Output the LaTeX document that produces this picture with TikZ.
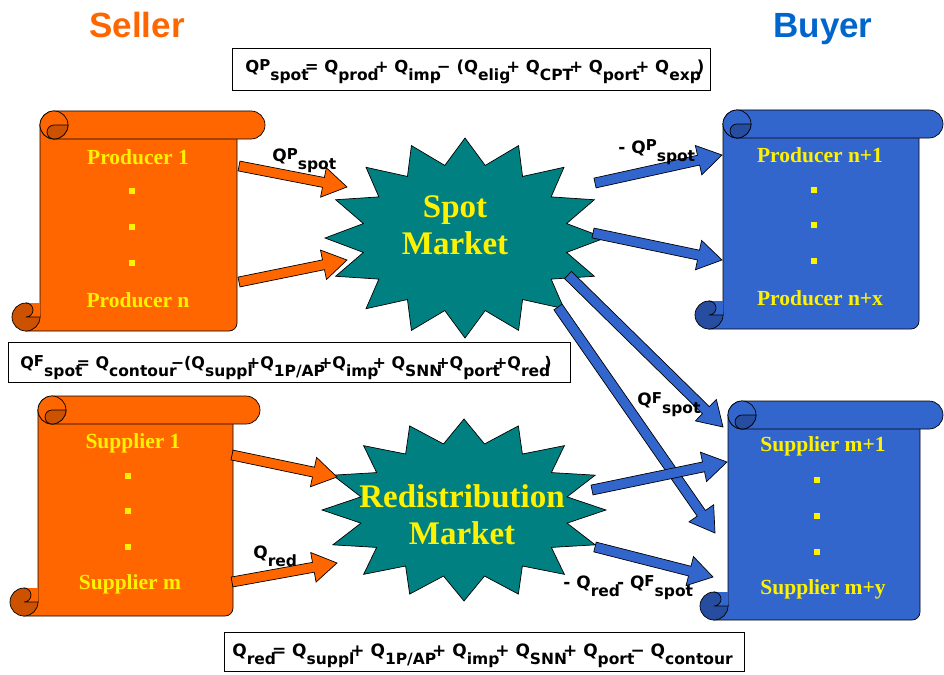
\documentclass[tikz,border=0pt]{standalone}
\usepackage{fontspec}
\setmainfont{Liberation Serif}
\setsansfont{DejaVu Sans}
\newfontfamily\headfont{Liberation Sans}
\usetikzlibrary{calc}

\definecolor{sellerorange}{RGB}{255,102,0}
\definecolor{sellercurl}{RGB}{204,82,0}
\definecolor{buyerblue}{RGB}{51,102,204}
\definecolor{buyercurl}{RGB}{38,77,160}
\definecolor{headblue}{RGB}{0,102,204}
\definecolor{marketteal}{RGB}{0,128,128}

% quantity with lowered index, and with raised letter
\newlength\subkern
\setlength\subkern{-3pt}
\newcommand{\qq}[2]{#1\raisebox{-8pt}{\fontsize{15.5}{15.5}\selectfont #2}\kern\subkern}
\newcommand{\qup}[1]{Q\raisebox{2pt}{\fontsize{15}{15}\selectfont #1}}

% scroll: left, top, right, bottom, end of roll, fill, curl
\newcommand{\drawscroll}[7]{%
  \draw[fill=#6] ({#1-14},#4) -- ({#3-8},#4) arc[start angle=-90,end angle=0,radius=8pt]
    -- (#3,{#2+14}) -- (#1,{#2+14}) -- (#1,{#4-14}) -- cycle;
  \draw[fill=#7] ({#1-14},{#4-14}) circle (14pt);
  \fill[#6] ({#1-14},{#4-28}) arc[start angle=90,end angle=-90,radius=7pt] -- (#1,{#4-14}) -- (#1,{#4-28}) -- cycle;
  \draw ({#1-14},{#4-28}) arc[start angle=90,end angle=-90,radius=7pt] -- (#1,{#4-14});
  \draw[fill=#6,rounded corners=14pt] (#1,#2) rectangle (#5,{#2+28});
  \draw[fill=#6] ({#1+14},{#2+14}) circle (14pt);
  \draw[fill=#7] ({#1+14},{#2+14}) arc[start angle=90,end angle=270,radius=7pt]
    arc[start angle=-90,end angle=0,radius=14pt] -- cycle;
}

% star: centre, x radius, y radius
\newcommand{\drawstar}[3]{%
  \draw[fill=marketteal] (#1) +(0:#2pt and #3pt)
    \foreach \i [evaluate=\i as \ang using \i*11.25,
                 evaluate=\i as \rx using {mod(\i,2)==1 ? 0.74*#2 : #2},
                 evaluate=\i as \ry using {mod(\i,2)==1 ? 0.74*#3 : #3}] in {1,...,31}
      { -- +(\ang:\rx pt and \ry pt) } -- cycle;
}

% block arrow from #1 to #2
\newcommand{\blockarrow}[3]{%
  \coordinate (bh) at ($(#2)!24pt!(#1)$);
  \draw[fill=#3] ($(#1)!5pt!90:(#2)$) -- ($(bh)!5pt!90:(#2)$) -- ($(bh)!15pt!90:(#2)$)
    -- (#2) -- ($(bh)!15pt!-90:(#2)$) -- ($(bh)!5pt!-90:(#2)$) -- ($(#1)!5pt!-90:(#2)$) -- cycle;
}

\begin{document}
\begin{tikzpicture}[x=1pt,y=-1pt,line width=0.7pt,
    every node/.style={inner sep=0pt},
    headtext/.style={anchor=base,font=\headfont\bfseries\fontsize{35}{35}\selectfont},
    formbox/.style={draw,line width=0.8pt},
    formtext/.style={anchor=base west,font=\sffamily\bfseries\fontsize{17}{17}\selectfont},
    scrolltext/.style={text=yellow,font=\bfseries\fontsize{21.5}{24}\selectfont},
    dotsq/.style={fill=yellow,minimum size=6pt},
    markettext/.style={text=yellow,align=center,font=\bfseries\fontsize{33}{37}\selectfont}]
\useasboundingbox (0,0) rectangle (944,674);

\node[headtext,text=sellerorange] (seller) at (137,38) {Seller};
\node[headtext,text=headblue] (buyer) at (823,38) {Buyer};

% formulas
\node[formbox,minimum width=478pt,minimum height=42pt] (fspot) at (471,69) {};
\node[formtext,font=\sffamily\bfseries\fontsize{16.5}{17}\selectfont] (fspottxt) at (245,73)
  {\setlength\subkern{-4pt}\qq{\qup{P}}{spot}= \qq{Q}{prod}+ \qq{Q}{imp}− (\qq{Q}{elig}+ \qq{Q}{CPT}+ \qq{Q}{port}+ \qq{Q}{exp})};
\node[formbox,minimum width=562pt,minimum height=40pt] (fforw) at (289,362) {};
\node[formtext,font=\sffamily\bfseries\fontsize{16}{17}\selectfont] (fforwtxt) at (20,368)
  {\setlength\subkern{-6pt}\qq{\qup{F}}{spot}= \qq{Q}{contour}−(\qq{Q}{suppl}+\qq{Q}{1P/AP}+\qq{Q}{imp}+ \qq{Q}{SNN}+\qq{Q}{port}+\qq{Q}{red})};
\node[formbox,minimum width=520pt,minimum height=39pt] (fred) at (484,652) {};
\node[formtext] (fredtxt) at (232,656)
  {\setlength\subkern{-4pt}\qq{Q}{red}= \qq{Q}{suppl}+ \qq{Q}{1P/AP}+ \qq{Q}{imp}+ \qq{Q}{SNN}+ \qq{Q}{port}− \qq{Q}{contour}};

% scrolls
\drawscroll{40}{111}{237}{331}{265}{sellerorange}{sellercurl}
\drawscroll{38}{396}{233}{616}{260}{sellerorange}{sellercurl}
\drawscroll{723}{110}{919}{329}{943}{buyerblue}{buyercurl}
\drawscroll{728}{401}{920}{620}{943}{buyerblue}{buyercurl}

\node[scrolltext] (prod1) at (138,157) {Producer 1};
\node[scrolltext] (prodn) at (138,300) {Producer n};
\node[scrolltext] (supp1) at (133,443) {Supplier 1};
\node[scrolltext] (suppm) at (130,584) {Supplier m};
\node[scrolltext] (prodn1) at (820,155) {Producer n+1};
\node[scrolltext] (prodnx) at (820,298) {Producer n+x};
\node[scrolltext] (suppm1) at (823,446) {Supplier m+1};
\node[scrolltext] (suppmy) at (823,589) {Supplier m+y};
\foreach \y [count=\k] in {191,227,263} \node[dotsq] (pa\k) at (132,\y) {};
\foreach \y [count=\k] in {476,511,547} \node[dotsq] (sa\k) at (128,\y) {};
\foreach \y [count=\k] in {190,225,261} \node[dotsq] (pb\k) at (814,\y) {};
\foreach \y [count=\k] in {480,516,552} \node[dotsq] (sb\k) at (817,\y) {};

% markets
\coordinate (spot) at (465,238);
\coordinate (redist) at (464,510);
\drawstar{spot}{140}{100}
\drawstar{redist}{142}{91}
\node[markettext] (spottxt) at (455,225) {Spot\\Market};
\node[markettext] (redisttxt) at (462,515) {Redistribution\\Market};

% flows
\coordinate (prodout1) at (239,166);  \coordinate (spotin1) at (347,187);
\coordinate (prodout2) at (239,282);  \coordinate (spotin2) at (347,260);
\coordinate (suppout1) at (232,455);  \coordinate (redin1) at (337,477);
\coordinate (suppout2) at (232,582);  \coordinate (redin2) at (337,563);
\coordinate (spotout1) at (595,183);  \coordinate (prodin1) at (722,155);
\coordinate (spotout2) at (593,233);  \coordinate (prodin2) at (722,260);
\coordinate (spotout3) at (568,275);  \coordinate (suppin1) at (723,427);
\coordinate (spotout4) at (558,307);  \coordinate (suppin2) at (715,533);
\coordinate (redout1) at (592,490);   \coordinate (suppin3) at (727,462);
\coordinate (redout2) at (595,547);   \coordinate (suppin4) at (713,577);
\blockarrow{prodout1}{spotin1}{sellerorange}
\blockarrow{prodout2}{spotin2}{sellerorange}
\blockarrow{suppout1}{redin1}{sellerorange}
\blockarrow{suppout2}{redin2}{sellerorange}
\blockarrow{spotout1}{prodin1}{buyerblue}
\blockarrow{spotout2}{prodin2}{buyerblue}
\blockarrow{spotout3}{suppin1}{buyerblue}
\blockarrow{spotout4}{suppin2}{buyerblue}
\blockarrow{redout1}{suppin3}{buyerblue}
\blockarrow{redout2}{suppin4}{buyerblue}

\node[formtext] (lqp) at (272,161) {\qq{\qup{P}}{spot}};
\node[formtext] (lqpneg) at (618,153) {- \qq{\qup{P}}{spot}};
\node[formtext] (lqf) at (637,405) {\qq{\qup{F}}{spot}};
\node[formtext] (lqred) at (253,558) {\qq{Q}{red}};
\node[formtext] (lqrest) at (563,588) {- \qq{Q}{red}- \qq{\qup{F}}{spot}};
\end{tikzpicture}
\end{document}
